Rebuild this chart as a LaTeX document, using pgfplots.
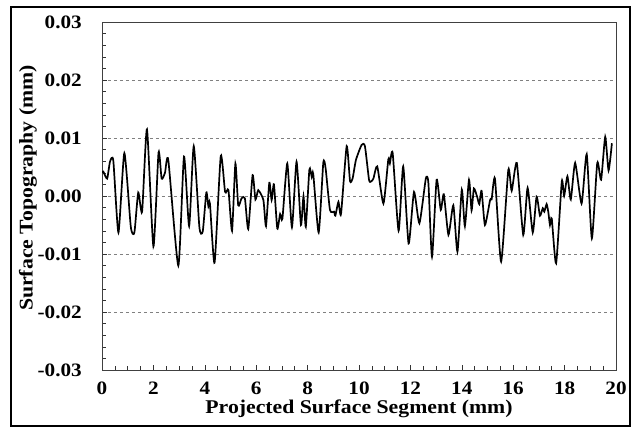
\documentclass[border=0pt]{standalone}
\usepackage{fontspec}
\setmainfont{Liberation Serif}[FakeStretch=1.12]
\usepackage{pgfplots}
\pgfplotsset{compat=1.18}
\begin{document}
\begin{tikzpicture}[x=1bp,y=1bp]
\path (0,0) rectangle (636,432);
\draw[line width=1.6bp] (11,6) rectangle (630,425);
\begin{axis}[
  at={(102bp,62bp)}, anchor=south west,
  width=514bp, height=348bp, scale only axis,
  xmin=0, xmax=20, ymin=-0.03, ymax=0.03,
  xtick={0,2,...,20}, minor x tick num=3,
  ytick={-0.03,-0.02,...,0.031}, minor y tick num=4,
  scaled y ticks=false,
  tick align=inside,
  xtick pos=bottom, ytick pos=left,
  major tick length=5bp, minor tick length=4bp,
  tick style={black!80, line width=0.6bp},
  axis line style={black!75, line width=0.8bp},
  ymajorgrids,
  grid style={dashed, black!50, line width=0.6bp},
  /pgf/number format/assume math mode=true,
  yticklabel style={/pgf/number format/fixed, /pgf/number format/fixed zerofill, /pgf/number format/precision=2, font=\fontsize{19}{19}\selectfont\bfseries, anchor=east, inner sep=0pt, xshift=-20bp},
  xticklabel style={font=\fontsize{19}{19}\selectfont\bfseries, anchor=center, inner sep=0pt, yshift=-18bp},
  xlabel={Projected Surface Segment (mm)},
  ylabel={Surface Topography (mm)},
  label style={font=\fontsize{19.5}{19.5}\selectfont\bfseries, inner sep=0pt},
  xlabel style={at={(axis description cs:0.5,0)}, anchor=center, yshift=-39bp},
  ylabel style={at={(axis description cs:0,0.5)}, anchor=center, yshift=74bp, xshift=8bp},
]
\addplot[black, line width=1.7bp, smooth, tension=0.35] coordinates {
(0.0,0.0040) (0.05,0.0042) (0.2,0.0030) (0.31,0.0059) (0.44,0.0061) (0.64,-0.0063)
(0.87,0.0074) (1.12,-0.0053) (1.26,-0.0063) (1.41,0.0006) (1.56,-0.0027) (1.75,0.0115)
(2.0,-0.0087) (2.2,0.0075) (2.32,0.0030) (2.45,0.0040) (2.58,0.0062) (2.97,-0.0120)
(3.19,0.0068) (3.39,-0.0052) (3.57,0.0086) (3.79,-0.0054) (3.92,-0.0061) (4.06,0.0006)
(4.14,-0.0018) (4.2,-0.0013) (4.38,-0.0115) (4.62,0.0069) (4.79,0.0007) (4.92,0.0010)
(5.06,-0.0060) (5.19,0.0056) (5.3,-0.0016) (5.43,-0.0004) (5.56,-0.0004) (5.69,-0.0057)
(5.86,0.0036) (5.97,-0.0006) (6.08,0.0010) (6.28,-0.0007) (6.38,-0.0052) (6.51,0.0023)
(6.6,-0.0007) (6.69,0.0020) (6.82,-0.0056) (6.93,-0.0031) (7.02,-0.0039) (7.21,0.0056)
(7.39,-0.0054) (7.57,0.0059) (7.74,-0.0050) (7.84,0.0000) (7.93,-0.0053) (8.07,0.0046)
(8.16,0.0033) (8.22,0.0038) (8.43,-0.0063) (8.61,0.0057) (8.7,0.0048) (8.87,-0.0024)
(9.03,-0.0027) (9.08,-0.0034) (9.2,-0.0010) (9.3,-0.0031) (9.52,0.0086) (9.65,0.0026)
(9.75,0.0030) (9.88,0.0062) (10.1,0.0088) (10.23,0.0086) (10.39,0.0028) (10.47,0.0025)
(10.56,0.0030) (10.71,0.0051) (10.95,-0.0013) (11.14,0.0063) (11.2,0.0056) (11.31,0.0074)
(11.54,-0.0060) (11.72,0.0051) (11.93,-0.0082) (12.14,0.0007) (12.35,-0.0047) (12.6,0.0030)
(12.7,0.0022) (12.84,-0.0105) (13.02,0.0028) (13.18,-0.0024) (13.3,0.0003) (13.48,-0.0067)
(13.67,-0.0016) (13.83,-0.0096) (14.0,0.0011) (14.12,-0.0052) (14.28,0.0028) (14.38,-0.0025)
(14.47,0.0013) (14.6,-0.0002) (14.68,-0.0014) (14.77,0.0009) (14.9,-0.0050) (15.1,-0.0007)
(15.16,-0.0006) (15.29,0.0030) (15.53,-0.0113) (15.81,0.0045) (15.94,0.0009) (16.14,0.0057)
(16.39,-0.0067) (16.56,0.0014) (16.76,-0.0063) (16.91,-0.0001) (17.04,-0.0034) (17.15,-0.0021)
(17.21,-0.0027) (17.3,-0.0014) (17.37,-0.0029) (17.43,-0.0050) (17.5,-0.0039) (17.67,-0.0116)
(17.89,0.0025) (17.98,0.0000) (18.11,0.0034) (18.24,-0.0006) (18.41,0.0057) (18.66,-0.0013)
(18.86,0.0072) (19.06,-0.0073) (19.27,0.0057) (19.42,0.0028) (19.58,0.0102) (19.71,0.0044)
(19.84,0.0091)
};
\end{axis}
\end{tikzpicture}
\end{document}
